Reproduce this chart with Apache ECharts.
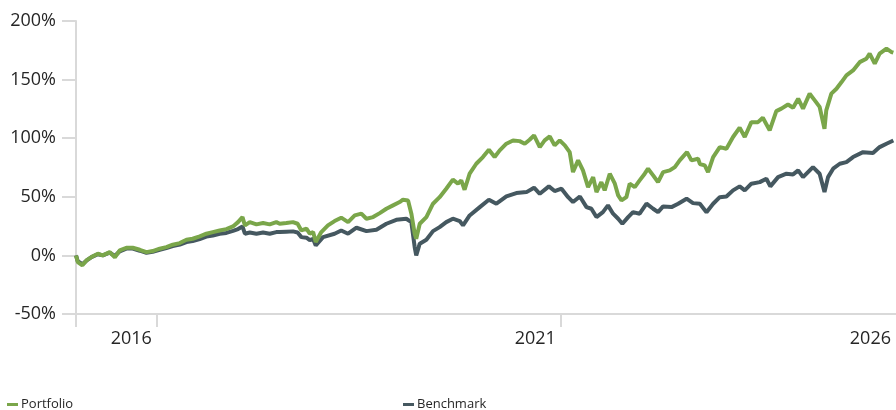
<!DOCTYPE html>
<html>
<head>
<meta charset="utf-8">
<script src="https://cdn.jsdelivr.net/npm/echarts@6/dist/echarts.min.js"></script>
<style>
  html, body { margin: 0; padding: 0; background: #ffffff; }
  #chart { width: 896px; height: 410px; }
</style>
</head>
<body>
<div id="chart"></div>
<script>
// ---- Data ----
const portfolioDates = [
  '2016-01-01','2016-01-09','2016-01-30','2016-02-17','2016-03-11','2016-04-09','2016-05-01','2016-06-02','2016-06-25','2016-07-17',
  '2016-08-16','2016-09-14','2016-10-16','2016-11-15','2016-12-13','2017-01-14','2017-02-13','2017-03-14','2017-04-15','2017-05-15',
  '2017-06-12','2017-07-14','2017-08-13','2017-09-11','2017-10-12','2017-11-11','2017-12-11','2018-01-03','2018-01-23','2018-02-03',
  '2018-02-25','2018-03-27','2018-04-26','2018-05-26','2018-06-25','2018-07-10','2018-08-09','2018-09-08','2018-09-29','2018-10-16',
  '2018-11-08','2018-11-23','2018-12-08','2018-12-20','2019-01-14','2019-02-13','2019-03-15','2019-04-14','2019-05-15','2019-06-14',
  '2019-07-14','2019-08-06','2019-09-05','2019-10-05','2019-11-04','2019-12-04','2020-01-03','2020-01-18','2020-02-10','2020-02-25',
  '2020-03-11','2020-03-18','2020-04-03','2020-05-03','2020-06-02','2020-07-02','2020-08-01','2020-08-31','2020-09-23','2020-10-08',
  '2020-10-23','2020-11-15','2020-12-15','2021-01-14','2021-02-10','2021-03-08','2021-03-31','2021-04-30','2021-05-30','2021-06-29',
  '2021-07-22','2021-08-13','2021-09-02','2021-09-28','2021-10-20','2021-11-12','2021-12-04','2021-12-27','2022-01-19','2022-02-10',
  '2022-02-25','2022-03-20','2022-04-11','2022-05-04','2022-05-27','2022-06-11','2022-07-03','2022-07-18','2022-08-10','2022-09-02',
  '2022-09-17','2022-10-02','2022-10-24','2022-11-08','2022-12-01','2022-12-23','2023-01-15','2023-01-30','2023-02-22','2023-03-16',
  '2023-04-08','2023-05-08','2023-05-31','2023-06-22','2023-07-25','2023-08-14','2023-09-13','2023-09-21','2023-10-13','2023-10-28',
  '2023-11-20','2023-12-20','2024-01-19','2024-02-18','2024-03-19','2024-04-11','2024-05-11','2024-06-10','2024-07-02','2024-08-02',
  '2024-09-01','2024-09-24','2024-10-24','2024-11-16','2024-12-09','2024-12-31','2025-01-30','2025-02-22','2025-03-16','2025-04-07',
  '2025-04-15','2025-05-08','2025-05-31','2025-06-23','2025-07-15','2025-08-14','2025-09-13','2025-10-13','2025-10-28','2025-11-20',
  '2025-12-12','2026-01-12','2026-02-04','2026-02-12'
];
const portfolioValues = [
  0, -5.7, -8.5, -4.3, -1.4, 1.4, 0, 2.8, -1.7, 4.3,
  6.5, 6.5, 4.8, 2.8, 3.7, 5.7, 7.1, 9.1, 10.5, 13.4,
  14.2, 16.2, 18.5, 19.9, 21.3, 22.4, 24.7, 28.4, 32.7, 25.6,
  28.4, 26.5, 27.6, 26.5, 28.4, 27.0, 27.6, 28.4, 27.0, 21.3,
  22.8, 18.5, 19.9, 11.4, 19.9, 25.6, 29.3, 32.2, 28.4, 34.1,
  35.6, 31.3, 32.7, 36.1, 39.8, 42.7, 45.5, 47.5, 46.9, 35.6,
  18.5, 14.2, 27.0, 32.7, 44.1, 49.7, 56.9, 64.6, 61.2, 64.0,
  56.0, 69.7, 78.2, 83.9, 90.2, 83.9, 89.6, 95.3, 98.1, 97.5,
  95.3, 98.7, 102.4, 92.4, 98.1, 101.5, 93.9, 98.1, 93.9, 88.1,
  71.1, 81.1, 72.5, 58.3, 66.8, 54.0, 62.5, 55.5, 69.7, 61.2,
  51.2, 46.9, 49.7, 61.2, 58.3, 64.0, 69.7, 74.0, 68.3, 62.5,
  71.1, 72.5, 75.3, 81.1, 88.1, 81.1, 82.5, 78.0, 76.8, 71.1,
  83.9, 92.4, 91.0, 101.0, 109.0, 101.0, 113.7, 113.7, 117.5, 106.7,
  123.1, 125.2, 128.8, 126.0, 133.7, 125.2, 138.0, 132.3, 126.7, 108.1,
  123.7, 138.0, 142.2, 147.9, 153.6, 157.8, 164.9, 167.8, 172.1, 163.6,
  172.1, 176.4, 173.5, 173.0
];

const benchmarkDates = [
  '2016-01-01','2016-01-09','2016-01-30','2016-02-17','2016-03-11','2016-04-09','2016-05-01','2016-06-02','2016-06-25','2016-07-17',
  '2016-08-16','2016-09-14','2016-10-16','2016-11-15','2016-12-13','2017-01-14','2017-02-13','2017-03-14','2017-04-15','2017-05-15',
  '2017-06-12','2017-07-14','2017-08-13','2017-09-11','2017-10-12','2017-11-11','2017-12-11','2018-01-03','2018-01-23','2018-02-03',
  '2018-02-25','2018-03-27','2018-04-26','2018-05-26','2018-06-25','2018-07-10','2018-08-09','2018-09-08','2018-09-29','2018-10-16',
  '2018-11-08','2018-11-23','2018-12-08','2018-12-20','2019-01-22','2019-03-15','2019-04-14','2019-05-15','2019-06-22','2019-08-06',
  '2019-09-20','2019-11-04','2019-12-19','2020-02-02','2020-02-25','2020-03-11','2020-03-18','2020-04-03','2020-05-03','2020-06-02',
  '2020-07-02','2020-08-01','2020-08-31','2020-10-01','2020-10-16','2020-11-15','2020-12-31','2021-02-10','2021-03-16','2021-04-30',
  '2021-06-14','2021-07-30','2021-09-02','2021-09-28','2021-11-08','2021-12-04','2022-01-04','2022-02-03','2022-02-25','2022-03-28',
  '2022-04-27','2022-05-19','2022-06-11','2022-07-10','2022-08-02','2022-08-25','2022-09-17','2022-10-06','2022-11-01','2022-11-23',
  '2022-12-23','2023-01-23','2023-02-22','2023-03-16','2023-04-08','2023-05-16','2023-06-15','2023-07-23','2023-08-21','2023-09-21',
  '2023-10-21','2023-11-20','2023-12-20','2024-01-19','2024-02-18','2024-03-19','2024-04-11','2024-05-11','2024-06-18','2024-07-18',
  '2024-08-05','2024-09-09','2024-10-17','2024-11-16','2024-12-09','2024-12-31','2025-02-14','2025-03-16','2025-04-07','2025-04-23',
  '2025-05-16','2025-06-15','2025-07-15','2025-08-14','2025-09-28','2025-11-12','2025-12-12','2026-01-12','2026-02-12'
];
const benchmarkValues = [
  0, -5.0, -7.5, -4.5, -1.5, 1.0, 0, 2.3, -0.5, 3.5,
  5.8, 5.8, 4.0, 2.2, 3.0, 4.8, 6.3, 8.0, 9.3, 11.4,
  12.3, 14.0, 16.0, 17.0, 18.5, 19.2, 21.0, 22.5, 24.7, 18.5,
  19.5, 18.5, 19.5, 18.5, 19.9, 19.9, 20.2, 20.5, 19.5, 15.6,
  15.1, 13.0, 14.0, 8.5, 15.6, 18.5, 21.3, 18.5, 23.6, 20.7,
  21.9, 27.0, 30.4, 31.3, 28.4, 7.1, 0.0, 10.0, 13.4, 20.7,
  24.1, 28.4, 31.3, 29.3, 25.6, 34.1, 41.2, 47.5, 44.1, 50.3,
  53.2, 54.0, 57.8, 52.6, 58.9, 54.9, 56.9, 49.7, 45.5, 50.3,
  41.2, 39.8, 32.7, 36.9, 42.7, 35.6, 31.3, 27.0, 32.7, 36.9,
  35.6, 44.1, 39.8, 36.9, 41.8, 41.2, 44.1, 48.4, 44.6, 44.1,
  36.9, 44.1, 49.7, 50.3, 55.5, 58.9, 55.5, 61.2, 62.5, 65.4,
  58.9, 66.8, 69.7, 69.1, 72.5, 66.8, 75.3, 69.7, 54.0, 66.8,
  74.0, 78.2, 79.6, 83.9, 88.1, 87.3, 92.4, 95.3, 98.0
];

const xTickDates = ['2016-01-01', '2017-01-01', '2022-01-01'];
const xLabelDates = ['2017-01-01', '2022-01-01', '2026-02-24'];
const xLabelTexts = ['2016', '2021', '2026'];
const xMin = '2016-01-01';
const xMax = '2026-02-24';

// ---- Helpers: date string -> decimal year ----
function yr(s) {
  const p = s.split('-').map(Number);
  const start = Date.UTC(p[0], 0, 1);
  const end = Date.UTC(p[0] + 1, 0, 1);
  return p[0] + (Date.UTC(p[0], p[1] - 1, p[2]) - start) / (end - start);
}
function pairs(dates, values) {
  return dates.map((d, i) => [yr(d), values[i]]);
}

const labelYr = xLabelDates.map(yr);
const FONT = '"Open Sans", "Noto Sans", sans-serif';
const AXIS_COLOR = '#d9d9d9';
const TEXT_COLOR = '#262626';

function legendFor(name, left) {
  return {
    data: [name],
    left: left, top: 398,
    padding: 0,
    icon: 'rect', itemWidth: 11, itemHeight: 3, itemGap: 4,
    textStyle: { fontFamily: FONT, fontSize: 13, color: TEXT_COLOR, padding: [0, 0, 0, -2] },
    selectedMode: false
  };
}

const chart = echarts.init(document.getElementById('chart'), null, { renderer: 'canvas' });

chart.setOption({
  animation: false,
  backgroundColor: '#ffffff',
  textStyle: { fontFamily: FONT },
  grid: { left: 76, right: 0, top: 21, bottom: 96, containLabel: false },
  legend: [legendFor('Portfolio', 7), legendFor('Benchmark', 403)],
  xAxis: {
    type: 'value',
    min: yr(xMin),
    max: yr(xMax),
    splitLine: { show: false },
    axisLine: { show: true, onZero: false, lineStyle: { color: AXIS_COLOR, width: 2 } },
    axisTick: {
      show: true,
      customValues: xTickDates.map(yr),
      length: 13,
      lineStyle: { color: AXIS_COLOR, width: 2 }
    },
    axisLabel: {
      customValues: labelYr,
      formatter: function (v) {
        let best = 0, bd = Infinity;
        labelYr.forEach((t, i) => { const d = Math.abs(t - v); if (d < bd) { bd = d; best = i; } });
        return xLabelTexts[best];
      },
      align: 'right',
      padding: [0, 5, 0, 0],
      margin: 16,
      fontFamily: FONT,
      fontSize: 18,
      color: TEXT_COLOR
    }
  },
  yAxis: {
    type: 'value',
    min: -50,
    max: 200,
    interval: 50,
    splitLine: { show: false },
    axisLine: { show: true, onZero: false, lineStyle: { color: AXIS_COLOR, width: 2 } },
    axisTick: { show: true, length: 14, lineStyle: { color: AXIS_COLOR, width: 2 } },
    axisLabel: {
      formatter: '{value}%',
      margin: 20,
      fontFamily: FONT,
      fontSize: 18,
      color: TEXT_COLOR
    }
  },
  series: [
    {
      name: 'Benchmark',
      type: 'line',
      data: pairs(benchmarkDates, benchmarkValues),
      showSymbol: false,
      symbol: 'none',
      lineStyle: { color: '#455860', width: 4 },
      itemStyle: { color: '#455860' },
      z: 2
    },
    {
      name: 'Portfolio',
      type: 'line',
      data: pairs(portfolioDates, portfolioValues),
      showSymbol: false,
      symbol: 'none',
      lineStyle: { color: '#7aa64a', width: 4 },
      itemStyle: { color: '#7aa64a' },
      z: 3
    }
  ]
});
</script>
</body>
</html>
